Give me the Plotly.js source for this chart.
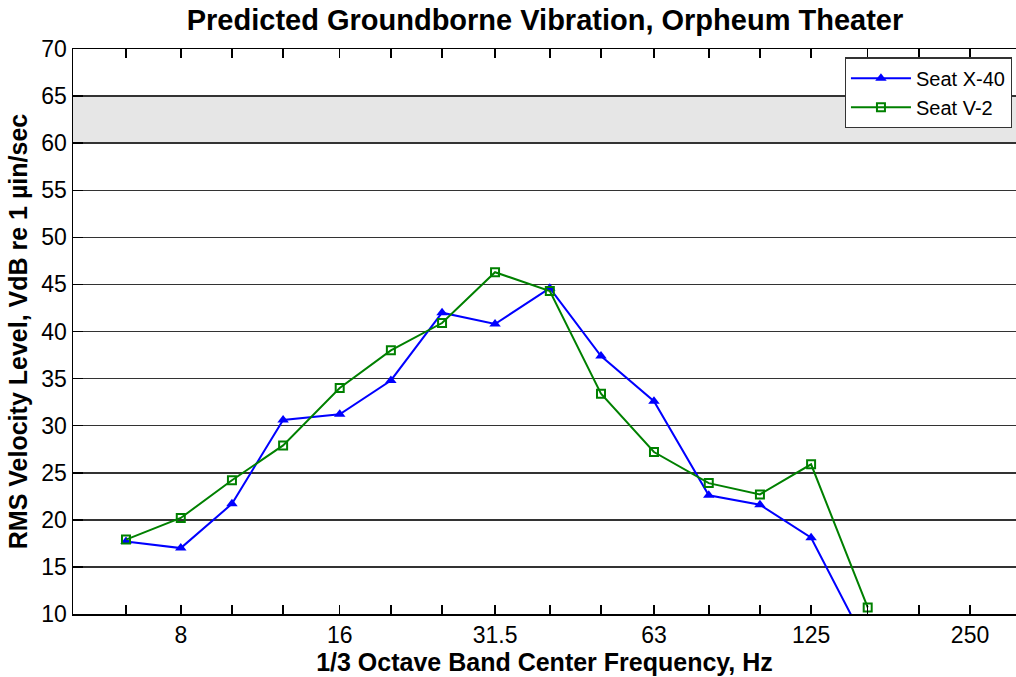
<!DOCTYPE html>
<html>
<head>
<meta charset="utf-8">
<script src="https://cdn.plot.ly/plotly-3.0.1.min.js"></script>
<style>html,body{margin:0;padding:0;background:#fff;overflow:hidden;}#chart{width:1016px;height:677px;}</style>
</head>
<body>
<div id="chart"></div>
<script>
// 1/3 octave band centre frequencies (Hz), nominal values
const bands = [6.3, 8, 10, 12.5, 16, 20, 25, 31.5, 40, 50, 63, 80, 100, 125, 160, 200, 250];
const labeledBands = [8, 16, 31.5, 63, 125, 250];
// Measured bands
const dataBands = [6.3, 8, 10, 12.5, 16, 20, 25, 31.5, 40, 50, 63, 80, 100, 125, 160];
const seatX40 = [17.7, 17.0, 21.7, 30.6, 31.2, 34.8, 42.0, 40.8, 44.6, 37.4, 32.6, 22.6, 21.6, 18.1, 6.5];
const seatV2  = [17.9, 20.2, 24.2, 27.9, 34.0, 38.0, 40.9, 46.3, 44.3, 33.4, 27.2, 23.9, 22.7, 25.9, 10.7];
const criterionBand = [60, 65];

const tickText = bands.map(b => labeledBands.includes(b) ? String(b) : '');

const font = 'Liberation Sans, Arial, sans-serif';

const traces = [
  {
    x: dataBands, y: seatX40, name: 'Seat X-40', type: 'scatter', mode: 'lines+markers',
    line: {color: '#0000ff', width: 2},
    marker: {symbol: 'triangle-up', size: 10, color: '#0000ff'},
    cliponaxis: true
  },
  {
    x: dataBands, y: seatV2, name: 'Seat V-2', type: 'scatter', mode: 'lines+markers',
    line: {color: '#008000', width: 2},
    marker: {symbol: 'square-open', size: 8, color: '#008000', line: {width: 2, color: '#008000'}},
    cliponaxis: true
  }
];

const layout = {
  width: 1016, height: 677,
  margin: {l: 73, r: 0, t: 49, b: 63},
  paper_bgcolor: '#ffffff', plot_bgcolor: '#ffffff',
  font: {family: font, size: 23, color: '#000'},
  title: {
    text: '<b>Predicted Groundborne Vibration, Orpheum Theater</b>',
    font: {family: font, size: 29, color: '#000'},
    x: 545 / 1016, xref: 'container', xanchor: 'center', y: 0.971, yanchor: 'middle', yref: 'container'
  },
  xaxis: {
    type: 'log', range: [Math.log10(5), 2.485],
    tickmode: 'array', tickvals: bands, ticktext: tickText,
    ticks: 'inside', ticklen: 9, tickwidth: 1.5, tickcolor: '#000',
    showgrid: false, zeroline: false,
    showline: true, linecolor: '#000', linewidth: 1.5, mirror: 'ticks',
    tickfont: {family: font, size: 23, color: '#000'},
    title: {text: '<b>1/3 Octave Band Center Frequency, Hz</b>', font: {family: font, size: 25, color: '#000'}, standoff: 2}
  },
  yaxis: {
    range: [10, 70], dtick: 5, tick0: 10,
    ticks: 'inside', ticklen: 10, tickwidth: 1.5, tickcolor: '#000',
    showgrid: true, gridcolor: '#333333', gridwidth: 1.5, zeroline: false,
    showline: true, linecolor: '#000', linewidth: 1.5,
    tickfont: {family: font, size: 23, color: '#000'},
    title: {text: '<b>RMS Velocity Level, VdB re 1 µin/sec</b>', font: {family: font, size: 25, color: '#000'}, standoff: 6}
  },
  shapes: [
    {type: 'rect', xref: 'paper', yref: 'y', x0: 0, x1: 1, y0: criterionBand[0], y1: criterionBand[1],
     fillcolor: '#e6e6e6', line: {width: 0}, layer: 'below'}
  ],
  legend: {
    x: 0.9955, xanchor: 'right', y: 0.985, yanchor: 'top',
    bgcolor: '#ffffff', bordercolor: '#333333', borderwidth: 1.2,
    font: {family: font, size: 20, color: '#000'},
    itemwidth: 60, tracegroupgap: 0
  },
  showlegend: true
};

Plotly.newPlot('chart', traces, layout, {displayModeBar: false, staticPlot: true});
</script>
</body>
</html>
